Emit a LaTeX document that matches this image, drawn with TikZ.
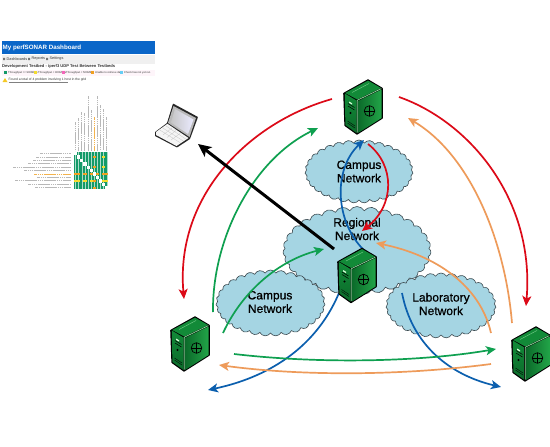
\documentclass[tikz,border=0pt]{standalone}
\usepackage{fontspec}
\setmainfont{Liberation Sans}
\newfontfamily\cloudfont[FakeBold=0.8]{Liberation Sans}
\usetikzlibrary{shapes.symbols,arrows.meta}
\definecolor{cloudfill}{HTML}{A5D5E3}
\definecolor{cloudline}{HTML}{3C4A50}
\definecolor{redarc}{HTML}{DC0A18}
\definecolor{greenarc}{HTML}{0FA050}
\definecolor{orangearc}{HTML}{EE9B5A}
\definecolor{bluearc}{HTML}{0B5FAE}
\definecolor{dashblue}{HTML}{0A66C8}
\definecolor{cellgreen}{HTML}{149A68}
\definecolor{cellorange}{HTML}{F0A020}
\definecolor{cellyellow}{HTML}{F2DC30}
\definecolor{srvdark}{HTML}{0B6A2A}
\definecolor{srvmid}{HTML}{128A38}
\definecolor{srvlight}{HTML}{22A548}
\definecolor{srvedge}{HTML}{8FE0A0}
\tikzset{
  netcloud/.style={cloud,cloud puffs=31,cloud puff arc=120,aspect=1.7,draw=cloudline,fill=cloudfill,line width=.6pt,inner sep=0pt},
  cloudtext/.style={font=\cloudfont\fontsize{12}{13.5}\selectfont,align=center,text=black,inner sep=0pt},
  arcthin/.style={line width=1.7pt,-{Stealth[length=10pt,width=9pt,inset=2.5pt]}},
  redline/.style={arcthin,draw=redarc},
  greenline/.style={arcthin,draw=greenarc},
  orangeline/.style={arcthin,draw=orangearc},
  blueline/.style={arcthin,draw=bluearc},
  blackline/.style={line width=3pt,draw=black,-{Stealth[length=13pt,width=12pt,inset=3pt]}},
  dashtext/.style={inner sep=0pt,anchor=west,text=black!80},
  labelbar/.style={line width=1pt,dash pattern=on 1.5pt off .4pt},
  server/.pic={
    \fill[black,rounded corners=.5pt] (-.8,13) -- (24,-.8) -- (38.8,8) -- (38.8,38.5) -- (13,54.8) -- (.4,45.8) -- cycle;
    \shade[top color=srvmid,bottom color=srvdark] (.8,13.5) -- (12.5,20.5) -- (12.5,53) -- (1.4,45) -- cycle;
    \shade[left color=srvdark,right color=srvlight] (14,21) -- (37.6,9.5) -- (37.6,38) -- (14,53) -- cycle;
    \fill[srvmid] (1.2,13) -- (24,.6) -- (37,8) -- (13.2,19.5) -- cycle;
    \draw[srvedge,line width=.7pt] (13.2,52.5) -- (13.2,20.3) -- (37.4,8.6);
    \draw[srvedge!70!srvmid,line width=.5pt] (8,12.5) -- (25,3.5);
    \draw[black,line width=.5pt] (4,23.5) -- (10.5,27.5) (4,26) -- (10.5,30);
    \fill[white!85!green] (5,21.5) -- (8,23.2) -- (8,24.6) -- (5,22.9) -- cycle;
    \fill[black] (6.5,33) circle (1.1);
    \draw[black,line width=.4pt] (3.5,41) -- (11,46) (3.5,43) -- (11,48);
    \draw[black,line width=.7pt] (25.5,31) circle (5.3);
    \draw[black,line width=.5pt] (20.2,31) -- (30.8,31) (25.5,25.7) -- (25.5,36.3);
  },
  laptopicon/.pic={
    \fill[black!85,rounded corners=.5pt] (0,29) -- (12,20) -- (18,0.5) -- (43,14) -- (35,36) -- (22,44.5) -- (0,33) -- cycle;
    \fill[gray!55] (18.5,3) -- (41,15) -- (34.5,34) -- (13,20) -- cycle;
    \shade[left color=gray!45,right color=blue!8] (20,6) -- (38.5,16.5) -- (33,31) -- (16,19.5) -- cycle;
    \fill[gray!8] (1,29) -- (12.4,20.8) -- (33.5,35) -- (21.5,43) -- (1,32) -- cycle;
    \draw[gray!45,line width=.3pt] (4.5,26.8) -- (25,39.6) (7.5,24.8) -- (28,37.8) (10.5,22.6) -- (31,36.2)
       (8,32) -- (17,25) (12,34.5) -- (21,27.5) (16,37) -- (25,30.5);
  }
}
\begin{document}
\begin{tikzpicture}[x=1pt,y=-1pt]
\useasboundingbox[fill=white] (0,0) rectangle (550,447);

% dashboard
\fill[dashblue] (2,41) rectangle (155,54);
\node[dashtext,text=white,font=\fontsize{6.2}{7}\selectfont\bfseries] (dashtitle) at (2.5,47.5) {My perfSONAR Dashboard};
\fill[black!6] (2,55) rectangle (155,64);
\fill[black!55] (3,57.8) rectangle +(2.2,2.2) (28,57.8) rectangle +(2.2,2.2) (46,57.8) rectangle +(2.2,2.2);
\node[dashtext,font=\fontsize{3.8}{4}\selectfont] (navA) at (6.5,59) {Dashboards};
\node[dashtext,font=\fontsize{3.8}{4}\selectfont] (navB) at (31.5,59) {Reports};
\node[dashtext,font=\fontsize{3.8}{4}\selectfont] (navC) at (49.5,59) {Settings};
\node[dashtext,font=\fontsize{4.1}{5}\selectfont\bfseries] (dashsub) at (2,66.5) {Development Testbed - iperf3 UDP Test Between Testbeds};
\fill[magenta!4] (2,70) rectangle (155,76);
\foreach \x/\c/\t in {4/cellgreen/Throughput >= 900Mbps,34/cellyellow/Throughput < 900Mbps,62/magenta!60/Throughput < 500Mbps,91/cellorange/Unable to retrieve data,120/cyan!60/Check has not yet run}{
  \fill[\c] (\x,71.3) rectangle +(2.8,2.8);
  \node[dashtext,font=\fontsize{2.7}{3}\selectfont] at (\x+4,72.8) {\t};
}
\fill[cellyellow!80!orange] (2.5,82) -- (5,78) -- (7.5,82) -- cycle;
\node[dashtext,font=\fontsize{3.3}{4}\selectfont] (dashwarn) at (8.5,80) {Found a total of 4 problem involving 1 host in the grid};
\draw[black!50,line width=.2pt] (8.5,81.8) -- (68,81.8);

% grid row and column labels, too small to be read
\foreach \r/\s in {0/40,1/36,2/33,3/28,4/13,5/24,6/34,7/37,8/15,9/28,10/35}{
  \pgfmathsetmacro{\yy}{153.7+\r*3.4}
  \ifnum\r=6 \draw[labelbar,draw=cellorange!80] (\s,\yy) -- (71,\yy);
  \else \draw[labelbar,draw=black!28] (\s,\yy) -- (71,\yy); \fi
}
\foreach \c/\s in {0/122,1/118,2/112,3/113,4/96,5/110,6/117,7/96,8/105,9/109,10/117}{
  \pgfmathsetmacro{\xx}{75.5+\c*3.13}
  \ifnum\c=6 \draw[labelbar,draw=cellorange!80] (\xx,\s) -- (\xx,150.5);
  \else \draw[labelbar,draw=black!28] (\xx,\s) -- (\xx,150.5); \fi
}
% grid cells
\foreach \r in {0,...,10}{\foreach \c in {0,...,10}{
  \pgfmathtruncatemacro{\same}{\r==\c ? 1 : 0}
  \ifnum\same=0
    \fill[cellgreen] ({74+\c*3.13},{152+\r*3.4}) rectangle +(3.13,3.4);
    \fill[cellgreen!35] ({75.3+\c*3.13},{152+\r*3.4}) rectangle +(.7,3.4);
  \fi
}}
\foreach \r/\c/\k in {6/0/cellorange,6/1/cellorange,6/3/cellorange,6/5/cellorange,6/7/cellorange,6/9/cellorange,6/10/cellorange,1/6/cellorange,4/6/cellorange,8/6/cellorange,10/6/cellorange,8/0/cellyellow,8/1/cellyellow,8/3/cellyellow,8/5/cellyellow,8/9/cellyellow,8/10/cellyellow,1/9/cellyellow,4/9/cellyellow}{
  \fill[\k] ({74+\c*3.13},{152+\r*3.4+.8}) rectangle +(3.13,1.8);
}

% clouds
\node[netcloud,minimum width=148pt,minimum height=88pt] (regional) at (357,250.5) {};
\node[netcloud,minimum width=108pt,minimum height=63pt] (campusTop) at (359,171.5) {};
\node[netcloud,minimum width=109pt,minimum height=66pt] (campusLow) at (270.5,303) {};
\node[netcloud,minimum width=110pt,minimum height=65pt] (lab) at (441,305.5) {};
\node[cloudtext] (tTop) at (359,171.5) {Campus\\Network};
\node[cloudtext] (tReg) at (357,229) {Regional\\Network};
\node[cloudtext] (tLow) at (270,302) {Campus\\Network};
\node[cloudtext] (tLab) at (441,304) {Laboratory\\Network};

% connector ends
\coordinate (rtlS) at (332,99);   \coordinate (rtlE) at (184,299);
\coordinate (rtrS) at (399,97);   \coordinate (rtrE) at (526,306);
\coordinate (oreS) at (512,323);  \coordinate (oreE) at (408,118);
\coordinate (grlS) at (213,312);  \coordinate (grlE) at (318,128);
\coordinate (blkS) at (334,249);  \coordinate (blkE) at (198,144);
\coordinate (binS) at (367,253);  \coordinate (binE) at (364,140);
\coordinate (rinS) at (368,144);  \coordinate (rinE) at (362,231);
\coordinate (grcS) at (223,333);  \coordinate (grcE) at (324,249);
\coordinate (orcS) at (491,333);  \coordinate (orcE) at (376,243);
\coordinate (bllS) at (339,293);  \coordinate (bllE) at (208,390);
\coordinate (blrS) at (402,293);  \coordinate (blrE) at (501,387);
\coordinate (grbS) at (234,354);  \coordinate (grbE) at (496,349);
\coordinate (orbS) at (491,364);  \coordinate (orbE) at (219,365);

% connectors
\draw[redline] (rtlS) .. controls (250,122) and (175,195) .. (rtlE);
\draw[redline] (rtrS) .. controls (470,122) and (535,200) .. (rtrE);
\draw[orangeline] (oreS) .. controls (505,240) and (470,155) .. (oreE);
\draw[greenline] (grlS) .. controls (212,240) and (252,160) .. (grlE);
\draw[blackline] (blkS) -- (blkE);
\draw[blueline] (binS) .. controls (335,225) and (332,170) .. (binE);
\draw[redline] (rinS) .. controls (395,165) and (395,205) .. (rinE);
\draw[greenline] (grcS) .. controls (243,290) and (280,260) .. (grcE);
\draw[orangeline] (orcS) .. controls (480,285) and (435,255) .. (orcE);
\draw[blueline] (bllS) .. controls (315,350) and (265,378) .. (bllE);
\draw[blueline] (blrS) .. controls (412,345) and (450,375) .. (blrE);
\draw[greenline] (grbS) .. controls (320,364) and (420,362) .. (grbE);
\draw[orangeline] (orbS) .. controls (400,376) and (300,376) .. (orbE);

% devices
\pic (srvTop) at (344,80) {server};
\pic (srvMid) at (338,248.5) {server};
\pic (srvLeft) at (171,317) {server};
\pic (srvRight) at (512,327) {server};
\pic (laptop) at (155,103) {laptopicon};
\end{tikzpicture}
\end{document}
